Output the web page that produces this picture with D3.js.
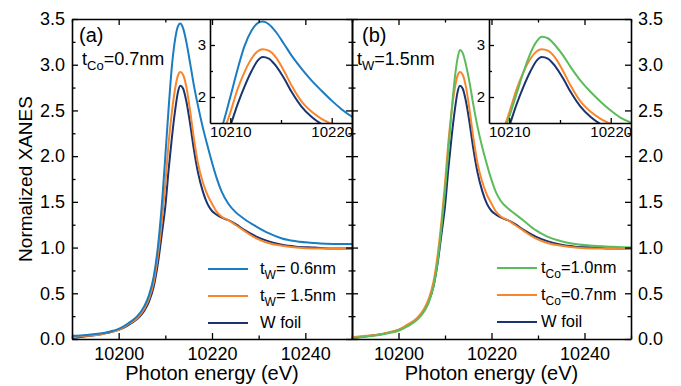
<!DOCTYPE html>
<html>
<head>
<meta charset="utf-8">
<script src="https://cdnjs.cloudflare.com/ajax/libs/d3/7.8.5/d3.min.js"></script>
<style>
body { margin: 0; background: #fff; }
svg { display: block; font-family: "Liberation Sans", Arial, sans-serif; }
.frame .domain { stroke: #000; stroke-width: 1.6px; }
.frame .tick line { stroke: #000; stroke-width: 1.3px; }
.frame text { fill: #000; }
</style>
</head>
<body>
<div id="chart"></div>
<script>
// photon energy grid (eV) and normalized XANES
var energy = [10190, 10193, 10196, 10198, 10200, 10202, 10204, 10205.5, 10206.5, 10207.5,
  10208.5, 10209.3, 10210, 10210.7, 10211.4, 10212.1, 10212.7, 10213.2, 10213.8, 10214.5,
  10215.3, 10216.1, 10217, 10218, 10219, 10220, 10221, 10222, 10223.5, 10225,
  10227, 10229.5, 10232, 10235, 10238, 10242, 10246, 10250];

var wFoil = [0.01, 0.03, 0.05, 0.07, 0.10, 0.15, 0.22, 0.31, 0.41, 0.57,
  0.86, 1.17, 1.45, 1.85, 2.20, 2.50, 2.70, 2.77, 2.74, 2.60,
  2.36, 2.08, 1.82, 1.62, 1.48, 1.40, 1.36, 1.33, 1.30, 1.26,
  1.19, 1.12, 1.07, 1.03, 1.01, 1.00, 0.99, 0.99];

var tW15 = [0.02, 0.035, 0.05, 0.075, 0.10, 0.16, 0.23, 0.33, 0.44, 0.62,
  0.95, 1.32, 1.70, 2.14, 2.48, 2.74, 2.88, 2.92, 2.89, 2.76,
  2.50, 2.20, 1.92, 1.72, 1.58, 1.48, 1.39, 1.34, 1.30, 1.25,
  1.18, 1.10, 1.05, 1.02, 1.00, 0.99, 0.99, 0.99];

var tW06 = [0.035, 0.045, 0.06, 0.08, 0.11, 0.17, 0.25, 0.36, 0.48, 0.68,
  1.05, 1.50, 2.00, 2.52, 2.98, 3.28, 3.42, 3.45, 3.40, 3.25,
  3.02, 2.78, 2.55, 2.32, 2.12, 1.93, 1.76, 1.62, 1.48, 1.39,
  1.31, 1.23, 1.16, 1.10, 1.07, 1.05, 1.04, 1.04];

var tCo10 = [0.01, 0.025, 0.045, 0.065, 0.09, 0.14, 0.21, 0.30, 0.40, 0.57,
  0.88, 1.25, 1.62, 2.05, 2.48, 2.85, 3.07, 3.16, 3.13, 3.00,
  2.80, 2.56, 2.32, 2.10, 1.91, 1.74, 1.60, 1.51, 1.43, 1.37,
  1.29, 1.19, 1.12, 1.07, 1.04, 1.02, 1.01, 1.00];

var xMajor = [10200, 10220, 10240];
var xMinor = [10190, 10210, 10230, 10250];
var yMajor = [0, 0.5, 1, 1.5, 2, 2.5, 3, 3.5];
var yMinor = [0.25, 0.75, 1.25, 1.75, 2.25, 2.75, 3.25];
var insetXMajor = [10210, 10220];
var insetXMinor = [10215];
var insetYMajor = [2, 3];
var insetYMinor = [2.5];

var blue = "#1b7cc2", orange = "#f8862c", navy = "#1b336e", green = "#5cbb5a";

var W = 681, H = 386;
var plotTop = 19, plotBottom = 339;

var svg = d3.select("#chart").append("svg")
  .attr("width", W)
  .attr("height", H);

var y = d3.scaleLinear().domain([0, 3.5]).range([plotBottom, plotTop]);

var panels = [
  { x0: 72, x1: 352, tag: "(a)", note: ["t", "Co", "=0.7nm"], noteX: 82, tagX: 79,
    series: [[wFoil, navy], [tW15, orange], [tW06, blue]],
    legend: [[blue, "t", "W", "= 0.6nm"], [orange, "t", "W", "= 1.5nm"], [navy, "W foil"]],
    legX: 208, legGap: 52, legY: [269, 296, 323],
    inset: [210, 352], leftLabels: true },
  { x0: 352, x1: 631, tag: "(b)", note: ["t", "W", "=1.5nm"], noteX: 357, tagX: 362,
    series: [[wFoil, navy], [tW15, orange], [tCo10, green]],
    legend: [[green, "t", "Co", "=1.0nm"], [orange, "t", "Co", "=0.7nm"], [navy, "W foil"]],
    legX: 497, legGap: 44, legY: [268, 295, 322],
    inset: [489, 631], leftLabels: false }
];

function addAxis(gen, tr) {
  return svg.append("g")
    .attr("class", "frame")
    .attr("transform", tr)
    .call(gen);
}

function frame(x, yy, xr, yr, opt) {
  // major + minor ticks on the four sides, ticks pointing inward
  var sides = [
    [d3.axisBottom, x, "translate(0," + yr[0] + ")", opt.xMaj, opt.xMin, opt.bottomLabels, opt.xPad, 0],
    [d3.axisTop, x, "translate(0," + yr[1] + ")", opt.xMaj, opt.xMin, false, 0, 0],
    [d3.axisLeft, yy, "translate(" + xr[0] + ",0)", opt.yMaj, opt.yMin, opt.leftLabels, opt.yPad, 1],
    [d3.axisRight, yy, "translate(" + xr[1] + ",0)", opt.yMaj, opt.yMin, opt.rightLabels, opt.yPad, 1]
  ];
  sides.forEach(function(s) {
    var maj = s[0](s[1]).tickValues(s[3]).tickSizeInner(-opt.major).tickSizeOuter(0)
      .tickPadding(s[6]);
    if (!s[5]) maj.tickFormat("");
    else maj.tickFormat(opt.fmt[s[7]]);
    var g = addAxis(maj, s[2]);
    g.selectAll("text").style("font-size", opt.fs + "px");
    var mn = s[0](s[1]).tickValues(s[4]).tickSizeInner(-opt.minor).tickSizeOuter(0).tickFormat("");
    addAxis(mn, s[2]).select(".domain").remove();
  });
}

panels.forEach(function(p) {
  var x = d3.scaleLinear().domain([10190, 10250]).range([p.x0, p.x1]);

  var line = d3.line()
    .x(function(d) { return x(d[0]); })
    .y(function(d) { return y(d[1]); })
    .curve(d3.curveMonotoneX);

  p.series.forEach(function(s) {
    svg.append("path")
      .datum(energy.map(function(e, i) { return [e, s[0][i]]; }))
      .attr("fill", "none")
      .attr("stroke", s[1])
      .attr("stroke-width", 2)
      .attr("d", line);
  });

  // inset: zoom on the white line
  var ix = d3.scaleLinear().domain([10208, 10222]).range(p.inset);
  var iy = d3.scaleLinear().domain([1.5, 3.5]).range([123, plotTop]);
  var clipId = "clip" + p.x0;
  svg.append("clipPath").attr("id", clipId)
    .append("rect")
    .attr("x", p.inset[0]).attr("y", plotTop)
    .attr("width", p.inset[1] - p.inset[0]).attr("height", 123 - plotTop);
  svg.append("rect")
    .attr("x", p.inset[0]).attr("y", plotTop)
    .attr("width", p.inset[1] - p.inset[0]).attr("height", 123 - plotTop)
    .attr("fill", "#fff");
  var iline = d3.line()
    .x(function(d) { return ix(d[0]); })
    .y(function(d) { return iy(d[1]); })
    .curve(d3.curveMonotoneX);
  p.series.forEach(function(s) {
    svg.append("path")
      .datum(energy.map(function(e, i) { return [e, s[0][i]]; }))
      .attr("clip-path", "url(#" + clipId + ")")
      .attr("fill", "none")
      .attr("stroke", s[1])
      .attr("stroke-width", 2)
      .attr("d", iline);
  });
  // inset axes: only bottom and left carry ticks
  var ib = d3.axisBottom(ix).tickValues(insetXMajor).tickSizeInner(-5).tickSizeOuter(0)
    .tickPadding(3).tickFormat(d3.format("d"));
  addAxis(ib, "translate(0,123)").selectAll("text").style("font-size", "15px");
  addAxis(d3.axisBottom(ix).tickValues(insetXMinor).tickSizeInner(-3).tickSizeOuter(0).tickFormat(""),
    "translate(0,123)").select(".domain").remove();
  var il = d3.axisLeft(iy).tickValues(insetYMajor).tickSizeInner(-5).tickSizeOuter(0)
    .tickPadding(4).tickFormat(d3.format("d"));
  addAxis(il, "translate(" + p.inset[0] + ",0)").selectAll("text").style("font-size", "15px");
  addAxis(d3.axisLeft(iy).tickValues(insetYMinor).tickSizeInner(-3).tickSizeOuter(0).tickFormat(""),
    "translate(" + p.inset[0] + ",0)").select(".domain").remove();

  // main frame
  frame(x, y, [p.x0, p.x1], [plotBottom, plotTop], {
    xMaj: xMajor, xMin: xMinor, yMaj: yMajor, yMin: yMinor,
    major: 6, minor: 3.5, fs: 18, xPad: 8, yPad: 7,
    bottomLabels: true, leftLabels: p.leftLabels, rightLabels: !p.leftLabels,
    fmt: [d3.format("d"), d3.format(".1f")]
  });

  // x title
  svg.append("text")
    .attr("x", (p.x0 + p.x1) / 2)
    .attr("y", 380)
    .attr("text-anchor", "middle")
    .style("font-size", "20px")
    .text("Photon energy (eV)");

  // panel tag and sample note
  svg.append("text")
    .attr("x", p.tagX).attr("y", 42)
    .style("font-size", "20px")
    .text(p.tag);
  var nt = svg.append("text")
    .attr("x", p.noteX).attr("y", 65)
    .style("font-size", "18px");
  nt.append("tspan").text(p.note[0]);
  nt.append("tspan").attr("dy", 5).style("font-size", "13px").text(p.note[1]);
  nt.append("tspan").attr("dy", -5).text(p.note[2]);

  // legend
  p.legend.forEach(function(l, i) {
    var ly = p.legY[i];
    svg.append("line")
      .attr("x1", p.legX).attr("x2", p.legX + 40)
      .attr("y1", ly).attr("y2", ly)
      .attr("stroke", l[0]).attr("stroke-width", 2);
    var t = svg.append("text")
      .attr("x", p.legX + p.legGap).attr("y", ly + 5)
      .style("font-size", "16.5px");
    if (l.length == 2) {
      t.text(l[1]);
    } else {
      t.append("tspan").text(l[1]);
      t.append("tspan").attr("dy", 5).style("font-size", "12px").text(l[2]);
      t.append("tspan").attr("dy", -5).text(l[3]);
    }
  });
});

// y title
svg.append("text")
  .attr("transform", "translate(32," + ((plotTop + plotBottom) / 2) + ") rotate(-90)")
  .attr("text-anchor", "middle")
  .style("font-size", "19px")
  .text("Normalized XANES");
</script>
</body>
</html>
